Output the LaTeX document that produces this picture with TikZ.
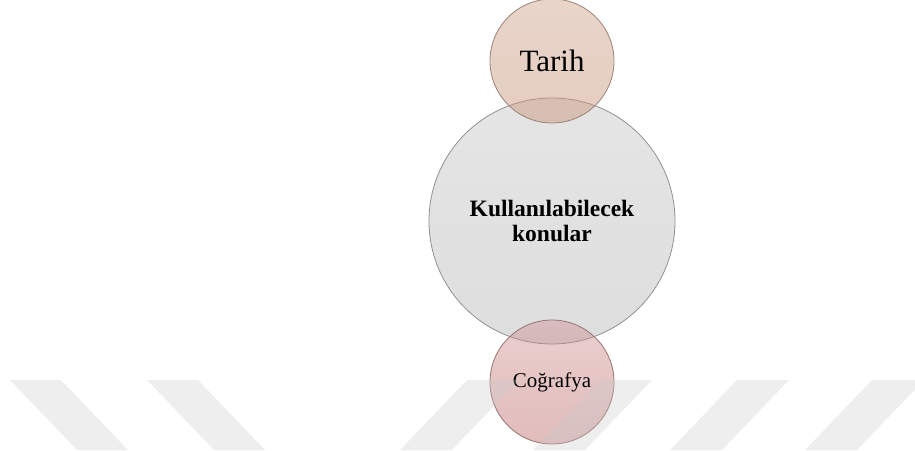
\documentclass[tikz,border=0pt]{standalone}
\usepackage{fontspec}
\setmainfont{Liberation Serif}
\definecolor{stripe}{RGB}{200,200,200}
\definecolor{bigtop}{RGB}{229,229,229}
\definecolor{bigbot}{RGB}{222,222,222}
\definecolor{bigline}{RGB}{145,145,145}
\definecolor{peachtop}{RGB}{207,162,138}
\definecolor{peachbot}{RGB}{197,143,115}
\definecolor{peachline}{RGB}{155,130,118}
\definecolor{rosetop}{RGB}{207,148,146}
\definecolor{rosebot}{RGB}{188,106,104}
\definecolor{roseline}{RGB}{150,115,113}
\tikzset{
  bubble/.style={circle, inner sep=0pt, line width=0.8pt, align=center, text=black},
  glass/.style={fill opacity=0.45, text opacity=1, draw opacity=1},
  wmark/.style={fill=stripe, fill opacity=0.3, draw=none}
}
\begin{document}
\begin{tikzpicture}[x=1pt,y=-1pt]
\useasboundingbox (0,0) rectangle (915,450);
% circles
\node[bubble, minimum size=246pt, draw=bigline, top color=bigtop, bottom color=bigbot,
      font=\fontsize{23.5}{25}\selectfont\bfseries] (main) at (552,221)
      {Kullanılabilecek\\konular};
\node[bubble, glass, minimum size=124pt, draw=peachline, top color=peachtop, bottom color=peachbot,
      font=\fontsize{31}{36}\selectfont] (tarih) at (552,61) {Tarih};
\node[bubble, glass, minimum size=124pt, draw=roseline, top color=rosetop, bottom color=rosebot,
      font=\fontsize{21}{25}\selectfont] (cografya) at (552,382) {Coğrafya};
% watermark stripes (overlay)
\fill[wmark] (10,380) -- (61,380) -- (128,450) -- (77,450) -- cycle;
\fill[wmark] (147,380) -- (198,380) -- (265,450) -- (214,450) -- cycle;
\fill[wmark] (467,380) -- (519,380) -- (452,450) -- (400,450) -- cycle;
\fill[wmark] (600,380) -- (652,380) -- (585,450) -- (533,450) -- cycle;
\fill[wmark] (737,380) -- (789,380) -- (722,450) -- (670,450) -- cycle;
\fill[wmark] (872,380) -- (924,380) -- (857,450) -- (805,450) -- cycle;
\end{tikzpicture}
\end{document}
